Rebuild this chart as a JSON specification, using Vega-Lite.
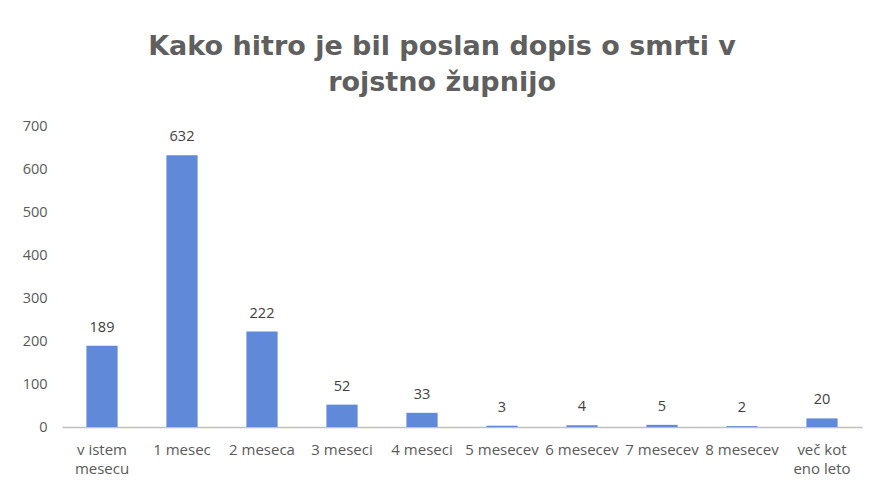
{
  "$schema": "https://vega.github.io/schema/vega-lite/v6.json",
  "autosize": "none",
  "width": 800,
  "height": 301,
  "padding": {"left": 62, "top": 126, "right": 18, "bottom": 62},
  "background": "white",
  "title": {
    "text": ["Kako hitro je bil poslan dopis o smrti v", "rojstno župnijo"],
    "font": "DejaVu Sans",
    "fontSize": 27,
    "fontWeight": "bold",
    "color": "#5f5f5f",
    "lineHeight": 36,
    "anchor": "middle",
    "frame": "bounds",
    "offset": 21
  },
  "data": {
    "values": [
      {"cat": "v istem mesecu", "n": 189},
      {"cat": "1 mesec", "n": 632},
      {"cat": "2 meseca", "n": 222},
      {"cat": "3 meseci", "n": 52},
      {"cat": "4 meseci", "n": 33},
      {"cat": "5 mesecev", "n": 3},
      {"cat": "6 mesecev", "n": 4},
      {"cat": "7 mesecev", "n": 5},
      {"cat": "8 mesecev", "n": 2},
      {"cat": "več kot eno leto", "n": 20}
    ]
  },
  "encoding": {
    "x": {
      "field": "cat",
      "type": "nominal",
      "sort": null,
      "scale": {"paddingInner": 0.61, "paddingOuter": 0.305},
      "axis": {
        "title": null,
        "labelAngle": 0,
        "ticks": false,
        "domainColor": "#bfbfbf",
        "domainWidth": 1.5,
        "labelFont": "Open Sans",
        "labelFontSize": 15,
        "labelColor": "#595959",
        "labelPadding": 15,
        "labelLineHeight": 19,
        "labelBaseline": "top",
        "labelExpr": "datum.label == 'v istem mesecu' ? ['v istem', 'mesecu'] : datum.label == 'več kot eno leto' ? ['več kot', 'eno leto'] : datum.label"
      }
    },
    "y": {
      "field": "n",
      "type": "quantitative",
      "scale": {"domain": [0, 700], "nice": false},
      "axis": {
        "title": null,
        "values": [0, 100, 200, 300, 400, 500, 600, 700],
        "grid": false,
        "domain": false,
        "ticks": false,
        "labelFont": "Open Sans",
        "labelFontSize": 14.5,
        "labelColor": "#595959",
        "labelPadding": 15
      }
    }
  },
  "layer": [
    {
      "mark": {"type": "bar", "color": "#6089d9"}
    },
    {
      "mark": {
        "type": "text",
        "baseline": "bottom",
        "dy": -11,
        "font": "Open Sans",
        "fontSize": 14.5,
        "color": "#404040"
      },
      "encoding": {"text": {"field": "n", "type": "quantitative"}}
    }
  ],
  "config": {"view": {"stroke": null}}
}
